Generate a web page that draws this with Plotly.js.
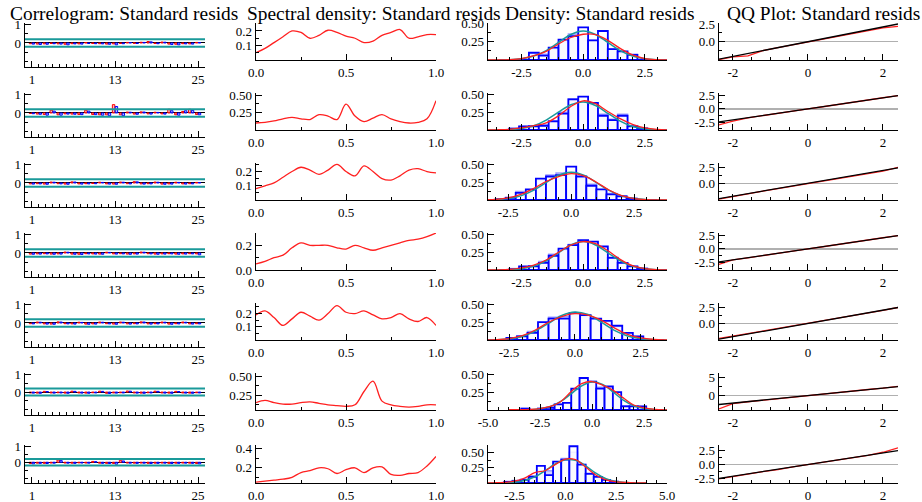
<!DOCTYPE html>
<html><head><meta charset="utf-8">
<script src="https://cdn.plot.ly/plotly-3.0.1.min.js"></script>
<style>html,body{margin:0;padding:0;background:#fff}#chart{width:922px;height:502px}</style>
</head><body><div id="chart"></div>
<script>
// ---- data: residual diagnostics for 7 series ----
const lags = [1,2,3,4,5,6,7,8,9,10,11,12,13,14,15,16,17,18,19,20,21,22,23,24,25];
const acfRows = [
  [-0.04,-0.06,-0.05,-0.03,-0.05,-0.07,-0.04,-0.05,0.02,-0.03,-0.04,-0.06,-0.05,-0.03,0.03,-0.02,0.04,0.08,-0.03,0.05,-0.06,-0.07,-0.04,-0.05,0.03],
  [-0.03,-0.06,-0.08,0.15,-0.1,-0.05,-0.06,-0.08,0.15,-0.08,-0.1,-0.1,0.45,-0.1,0.05,-0.06,0.06,-0.05,0.04,-0.05,0.2,-0.1,0.08,0.2,-0.08],
  [-0.05,-0.04,-0.06,0.05,-0.04,-0.06,0.06,-0.05,-0.04,-0.03,0.04,-0.05,-0.06,0.05,-0.04,0.07,-0.05,-0.04,0.05,-0.06,-0.05,0.04,-0.05,-0.04,0.03],
  [-0.06,-0.05,-0.04,-0.06,-0.05,0.05,-0.06,-0.07,-0.04,-0.05,-0.06,0.04,-0.05,-0.04,-0.06,-0.05,0.05,-0.04,-0.06,-0.05,-0.04,-0.06,-0.05,-0.04,-0.05],
  [-0.04,0.05,-0.05,-0.06,0.06,-0.04,-0.05,0.04,-0.06,-0.05,0.05,-0.04,-0.06,0.05,-0.05,-0.04,0.06,-0.05,-0.04,0.05,-0.06,-0.04,0.05,-0.05,-0.04],
  [-0.05,-0.06,0.04,-0.05,-0.04,-0.06,0.05,-0.05,-0.06,-0.04,0.05,-0.07,-0.05,-0.04,0.06,-0.05,-0.06,-0.04,0.05,-0.05,-0.06,0.04,-0.05,-0.06,-0.04],
  [-0.08,-0.06,-0.07,-0.05,0.14,-0.05,-0.06,-0.04,-0.05,0.05,-0.06,-0.07,-0.08,0.12,-0.05,-0.06,-0.05,-0.07,-0.06,-0.05,-0.07,-0.06,-0.05,-0.06,-0.08]
];
const pacfRows = [
  [-0.06,-0.08,-0.07,-0.04,-0.06,-0.1,-0.05,-0.06,-0.03,-0.04,-0.05,-0.07,-0.1,-0.04,0.02,-0.03,0.03,0.06,-0.04,0.04,-0.08,-0.1,-0.05,-0.06,0.02],
  [-0.04,-0.07,-0.12,0.1,-0.12,-0.06,-0.07,-0.09,0.1,-0.09,-0.12,-0.15,0.35,-0.15,0.04,-0.07,0.05,-0.06,0.03,-0.06,0.12,-0.12,0.12,0.14,-0.1],
  [-0.06,-0.05,-0.07,0.04,-0.05,-0.07,0.05,-0.06,-0.05,-0.04,0.03,-0.06,-0.07,0.04,-0.05,0.06,-0.06,-0.05,0.04,-0.07,-0.06,0.03,-0.06,-0.05,0.02],
  [-0.07,-0.06,-0.05,-0.07,-0.06,0.04,-0.07,-0.08,-0.05,-0.06,-0.07,0.03,-0.06,-0.05,-0.07,-0.06,0.04,-0.05,-0.07,-0.06,-0.05,-0.07,-0.06,-0.05,-0.1],
  [-0.05,0.04,-0.06,-0.07,0.05,-0.05,-0.06,0.03,-0.07,-0.06,0.04,-0.05,-0.07,0.04,-0.06,-0.05,0.05,-0.06,-0.05,0.04,-0.07,-0.05,0.04,-0.06,-0.05],
  [-0.06,-0.07,0.03,-0.06,-0.05,-0.07,0.04,-0.06,-0.07,-0.05,0.04,-0.08,-0.06,-0.05,0.05,-0.06,-0.07,-0.05,0.04,-0.06,-0.07,0.03,-0.06,-0.07,-0.05],
  [-0.1,-0.07,-0.08,-0.06,0.1,-0.06,-0.07,-0.05,-0.06,0.04,-0.07,-0.08,-0.12,0.08,-0.06,-0.07,-0.06,-0.08,-0.07,-0.06,-0.08,-0.07,-0.06,-0.07,-0.1]
];
const confBand = [0.2, 0.2, 0.2, 0.2, 0.2, 0.2, 0.2];

const freq = [0,0.05,0.1,0.15,0.2,0.25,0.3,0.35,0.4,0.45,0.5,0.55,0.6,0.65,0.7,0.75,0.8,0.85,0.9,0.95,1];
const specRows = [
  [0.05,0.08,0.12,0.16,0.2,0.19,0.15,0.17,0.205,0.19,0.165,0.15,0.12,0.13,0.17,0.19,0.21,0.15,0.16,0.175,0.175],
  [0.1,0.11,0.13,0.16,0.18,0.16,0.15,0.22,0.2,0.15,0.37,0.2,0.12,0.17,0.22,0.16,0.12,0.1,0.11,0.16,0.42],
  [0.08,0.1,0.12,0.16,0.2,0.23,0.21,0.18,0.21,0.25,0.2,0.17,0.24,0.2,0.15,0.14,0.17,0.21,0.22,0.2,0.19],
  [0.05,0.07,0.1,0.12,0.18,0.22,0.2,0.2,0.2,0.18,0.17,0.2,0.18,0.16,0.18,0.2,0.22,0.24,0.25,0.27,0.3],
  [0.19,0.22,0.17,0.11,0.16,0.21,0.18,0.15,0.2,0.26,0.21,0.2,0.22,0.19,0.16,0.17,0.2,0.16,0.14,0.17,0.11],
  [0.15,0.18,0.15,0.13,0.13,0.15,0.16,0.14,0.12,0.11,0.1,0.12,0.3,0.44,0.17,0.12,0.1,0.09,0.1,0.12,0.12],
  [0.05,0.06,0.07,0.08,0.1,0.15,0.17,0.2,0.19,0.14,0.18,0.2,0.15,0.2,0.21,0.13,0.12,0.14,0.15,0.22,0.32]
];

const binMid = [-3.2,-2.8,-2.4,-2.0,-1.6,-1.2,-0.8,-0.4,0,0.4,0.8,1.2,1.6,2.0,2.4,2.8,3.2];
const histA = [
  [0,0,0,0.1,0.06,0.17,0.28,0.33,0.45,0.27,0.4,0.15,0.12,0.07,0,0,0],
  [0,0.02,0.05,0.05,0.06,0.12,0.23,0.43,0.47,0.38,0.2,0.14,0.2,0.05,0.02,0,0],
  [0,0.01,0.03,0.1,0.15,0.3,0.33,0.35,0.47,0.33,0.2,0.15,0.08,0.05,0.02,0,0],
  [0,0.01,0.05,0.05,0.1,0.2,0.3,0.35,0.42,0.4,0.33,0.17,0.1,0.05,0.02,0,0],
  [0,0,0.03,0.05,0.1,0.25,0.3,0.3,0.38,0.35,0.3,0.27,0.2,0.1,0.05,0,0],
  [0.02,0,0.02,0.03,0.08,0.1,0.3,0.45,0.4,0.3,0.33,0.25,0.05,0.05,0.05,0,0],
  [0,0.02,0.03,0.05,0.1,0.28,0.13,0.35,0.38,0.6,0.3,0.15,0.1,0.05,0.02,0,0]
];
const histB = [
  [0,0,0,0.08,0.08,0.15,0.25,0.36,0.4,0.27,0.3,0.15,0.1,0.08,0,0,0],
  [0,0.02,0.05,0.06,0.07,0.13,0.25,0.44,0.4,0.35,0.22,0.15,0.22,0.06,0.03,0,0],
  [0,0.01,0.04,0.12,0.14,0.28,0.35,0.38,0.4,0.3,0.22,0.13,0.09,0.06,0.02,0,0],
  [0,0.02,0.04,0.06,0.12,0.22,0.28,0.36,0.4,0.38,0.3,0.18,0.1,0.05,0.02,0,0],
  [0,0,0.03,0.06,0.12,0.23,0.32,0.33,0.36,0.33,0.3,0.25,0.18,0.1,0.05,0,0],
  [0.02,0,0.02,0.04,0.08,0.1,0.28,0.42,0.4,0.32,0.3,0.24,0.06,0.05,0.05,0,0],
  [0,0.02,0.04,0.06,0.12,0.2,0.2,0.33,0.4,0.5,0.3,0.16,0.1,0.05,0.03,0,0]
];
const densX = [-4,-3.5,-3,-2.5,-2,-1.5,-1,-0.5,0,0.5,1,1.5,2,2.5,3,3.5,4];
const kdeRows = [
  [0,0.001,0.005,0.02,0.06,0.12,0.22,0.31,0.355,0.35,0.27,0.16,0.07,0.02,0.005,0.001,0],
  [0,0.003,0.01,0.03,0.06,0.1,0.2,0.33,0.41,0.37,0.26,0.16,0.08,0.03,0.008,0.002,0],
  [0,0.002,0.008,0.03,0.08,0.16,0.26,0.33,0.37,0.34,0.25,0.14,0.06,0.02,0.005,0.001,0],
  [0,0.002,0.008,0.03,0.07,0.14,0.25,0.35,0.4,0.37,0.27,0.15,0.06,0.02,0.005,0.001,0],
  [0,0.001,0.005,0.02,0.06,0.14,0.25,0.33,0.37,0.35,0.28,0.17,0.08,0.03,0.008,0.002,0],
  [0.005,0.005,0.008,0.02,0.05,0.12,0.26,0.37,0.4,0.35,0.28,0.17,0.07,0.03,0.01,0.002,0],
  [0,0.003,0.01,0.03,0.08,0.17,0.2,0.3,0.39,0.38,0.26,0.13,0.05,0.02,0.008,0.003,0]
];
const normRows = [
  [0,0.001,0.004,0.018,0.054,0.13,0.242,0.352,0.399,0.352,0.242,0.13,0.054,0.018,0.004,0.001,0],
  [0,0.001,0.005,0.02,0.06,0.14,0.25,0.355,0.395,0.345,0.235,0.125,0.05,0.016,0.004,0.001,0],
  [0,0.001,0.005,0.02,0.058,0.135,0.245,0.35,0.39,0.35,0.245,0.135,0.058,0.02,0.005,0.001,0],
  [0,0.001,0.004,0.018,0.054,0.13,0.242,0.352,0.399,0.352,0.242,0.13,0.054,0.018,0.004,0.001,0],
  [0,0.001,0.004,0.016,0.05,0.125,0.235,0.345,0.395,0.358,0.25,0.135,0.057,0.019,0.005,0.001,0],
  [0,0.001,0.004,0.016,0.05,0.12,0.23,0.34,0.395,0.36,0.255,0.14,0.06,0.02,0.005,0.001,0],
  [0,0.001,0.003,0.012,0.04,0.1,0.2,0.31,0.38,0.37,0.28,0.16,0.07,0.025,0.007,0.001,0]
];

const qqX = [-2.4,-2,-1.6,-1.2,-0.8,-0.4,0,0.4,0.8,1.2,1.6,2,2.4];
const qqRows = [
  [-2.55,-2.15,-2.0,-1.25,-0.82,-0.42,0,0.4,0.8,1.2,1.58,1.95,2.15],
  [-3.1,-2.3,-1.7,-1.25,-0.85,-0.4,0,0.4,0.85,1.25,1.7,2.1,2.5],
  [-2.6,-2.1,-1.7,-1.25,-0.85,-0.4,0.05,0.45,0.85,1.25,1.65,2.0,2.6],
  [-3.0,-2.1,-1.7,-1.25,-0.85,-0.4,0,0.4,0.85,1.25,1.7,2.1,2.5],
  [-2.4,-2.0,-1.65,-1.25,-0.85,-0.4,0,0.4,0.85,1.25,1.65,2.05,2.5],
  [-3.8,-2.2,-1.7,-1.25,-0.85,-0.4,0,0.4,0.85,1.3,1.7,2.1,2.6],
  [-2.6,-2.1,-1.7,-1.25,-0.9,-0.4,0,0.4,0.85,1.25,1.65,2.2,3.0]
];
const qqLine = [[-2.5,2.5],[-2.5,2.5],[-2.5,2.5],[-2.5,2.5],[-2.5,2.5],[-2.5,2.5],[-2.5,2.5]];
const qqLineX = [-2.4, 2.4];

const titles = ['Correlogram: Standard resids','Spectral density: Standard resids','Density: Standard resids','QQ Plot: Standard resids'];

// ---- layout geometry (pixels) ----
const W = 922, H = 502;
const colPx = [[25,205],[256,436],[488,667],[719,898]];
const rowTop = [23, 93, 163, 233, 303, 373, 445];
const corrBot = [67, 137, 207, 277, 347, 415, 483];
const plotBot = [60, 130, 200, 270, 340, 410, 483];
const specRange = [[0,0.255],[0,0.53],[0,0.26],[0,0.3],[0,0.28],[0.05,0.55],[0.04,0.44]];
const specTicks = [[0.1,0.2],[0.25,0.5],[0.1,0.2],[0,0.2],[0.1,0.2],[0.25,0.5],[0.2,0.4]];
const densRange = [[0,0.51],[0,0.52],[0,0.52],[0,0.52],[0,0.52],[0,0.52],[0,0.62]];
const densX0 = [[-3.86,3.4],[-3.86,3.4],[-3.3,3.8],[-3.86,3.4],[-3.3,3.5],[-5,3.6],[-3.8,5]];
const densTicks = [[-2.5,0,2.5],[-2.5,0,2.5],[-2.5,0,2.5],[-2.5,0,2.5],[-2.5,0,2.5],[-5,-2.5,0,2.5],[-2.5,0,2.5,5]];
const qqRange = [[-2.58,2.64],[-4,3],[-2.7,3.3],[-4,3],[-2.6,3.2],[-4,6.3],[-3.3,3.5]];
const qqTicks = [[0,2.5],[-2.5,0,2.5],[0,2.5],[-2.5,0,2.5],[0,2.5],[0,5],[-2.5,0,2.5]];

const FONT = 'Liberation Serif, Times New Roman, serif';
function fmt(v, d) { return v.toFixed(d); }

const traces = [];
const layout = {
  width: W, height: H, margin: {l:0, r:0, t:0, b:0},
  paper_bgcolor: '#fff', plot_bgcolor: 'rgba(0,0,0,0)',
  showlegend: false, barmode: 'overlay', bargap: 0,
  font: {family: FONT, size: 13, color: 'rgb(0,0,0)'},
  annotations: [], shapes: []
};

function baseAxis() {
  return {showline:true, linecolor:'#000', linewidth:1.3, showgrid:false, zeroline:false, color:'rgb(0,0,0)',
    ticks:'inside', ticklen:6, tickwidth:1, tickcolor:'#000',
    tickfont:{family:FONT, size:13, color:'rgb(0,0,0)'}, fixedrange:true};
}
function minorTicks(extra) {
  return Object.assign({ticklen:3, ticks:'inside', tickcolor:'#000', tickwidth:1}, extra);
}

for (let r = 0; r < 7; r++) {
  for (let c = 0; c < 4; c++) {
    const n = r*4 + c + 1;
    const xa = 'x' + n, ya = 'y' + n;
    const top = rowTop[r];
    const bot = c === 0 ? corrBot[r] : plotBot[r];
    const xAx = Object.assign(baseAxis(), {domain: [colPx[c][0]/W, colPx[c][1]/W], anchor: ya});
    const yAx = Object.assign(baseAxis(), {domain: [1 - bot/H, 1 - top/H], anchor: xa});
    if (c === 0) {
      xAx.range = [0, 26]; xAx.tickvals = [1,13,25]; xAx.ticktext = ['1','13','25'];
      xAx.minor = minorTicks({tickvals: lags});
      yAx.range = [-1.3, 1.08]; yAx.tickvals = [0,1]; yAx.ticktext = ['0','1'];
      yAx.minor = minorTicks({tickvals:[-1,-0.5,0.5]});
      yAx.zeroline = true; yAx.zerolinecolor = '#000'; yAx.zerolinewidth = 1;
      traces.push({type:'bar', x:lags, y:acfRows[r], xaxis:xa, yaxis:ya, width:0.35, offset:-0.38,
        marker:{color:'rgba(255,140,140,0.6)', line:{color:'#f00', width:1}}, hoverinfo:'skip'});
      traces.push({type:'bar', x:lags, y:pacfRows[r], xaxis:xa, yaxis:ya, width:0.35, offset:0.03,
        marker:{color:'rgba(140,140,255,0.6)', line:{color:'#00f', width:1}}, hoverinfo:'skip'});
      traces.push({type:'scatter', mode:'lines', x:[0,26], y:[confBand[r],confBand[r]], xaxis:xa, yaxis:ya,
        line:{color:'#1a9a9a', width:2}, hoverinfo:'skip'});
      traces.push({type:'scatter', mode:'lines', x:[0,26], y:[-confBand[r],-confBand[r]], xaxis:xa, yaxis:ya,
        line:{color:'#1a9a9a', width:2}, hoverinfo:'skip'});
    } else if (c === 1) {
      xAx.range = [0, 1]; xAx.tickvals = [0,0.5,1]; xAx.ticktext = ['0.0','0.5','1.0'];
      xAx.minor = minorTicks({dtick:0.25});
      yAx.range = specRange[r];
      const tv = specTicks[r];
      const dec = (tv[1] === 0.5) ? 2 : 1;
      yAx.tickvals = tv; yAx.ticktext = tv.map(v => fmt(v, dec));
      yAx.minor = minorTicks({dtick:(tv[1]-tv[0])/2});
      traces.push({type:'scatter', mode:'lines', x:freq, y:specRows[r], xaxis:xa, yaxis:ya,
        line:{color:'#ff2020', width:1.3, shape:'spline', smoothing:1}, hoverinfo:'skip'});
    } else if (c === 2) {
      xAx.range = densX0[r]; xAx.tickvals = densTicks[r]; xAx.ticktext = densTicks[r].map(v => fmt(v,1));
      xAx.minor = minorTicks({dtick:0.5});
      yAx.range = densRange[r]; yAx.tickvals = [0.25,0.5]; yAx.ticktext = ['0.25','0.50'];
      yAx.minor = minorTicks({dtick:0.125});
      traces.push({type:'bar', x:binMid, y:histB[r], xaxis:xa, yaxis:ya, width:0.4,
        marker:{color:'rgba(160,160,255,0.45)', line:{color:'rgba(120,120,255,0.7)', width:1.5}}, hoverinfo:'skip'});
      traces.push({type:'bar', x:binMid, y:histA[r], xaxis:xa, yaxis:ya, width:0.4,
        marker:{color:'rgba(255,255,255,0.85)', line:{color:'#0000ff', width:1.8}}, hoverinfo:'skip'});
      traces.push({type:'scatter', mode:'lines', x:densX, y:normRows[r], xaxis:xa, yaxis:ya,
        line:{color:'#1a9a9a', width:1.5, shape:'spline'}, hoverinfo:'skip'});
      traces.push({type:'scatter', mode:'lines', x:densX, y:kdeRows[r], xaxis:xa, yaxis:ya,
        line:{color:'#ff2020', width:1.3, shape:'spline'}, hoverinfo:'skip'});
    } else {
      xAx.range = [-2.37, 2.4]; xAx.tickvals = [-2,0,2]; xAx.ticktext = ['-2','0','2'];
      xAx.minor = minorTicks({dtick:0.5});
      yAx.range = qqRange[r]; const tv = qqTicks[r];
      const big = tv.includes(5);
      yAx.tickvals = tv; yAx.ticktext = tv.map(v => big ? String(v) : fmt(v,1));
      yAx.minor = minorTicks({dtick: big ? 2.5 : 1.25});
      yAx.zeroline = true; yAx.zerolinecolor = '#b0b0b0'; yAx.zerolinewidth = 1.5;
      traces.push({type:'scatter', mode:'lines', x:qqX, y:qqRows[r], xaxis:xa, yaxis:ya,
        line:{color:'#ff2020', width:1.3}, hoverinfo:'skip'});
      traces.push({type:'scatter', mode:'lines', x:qqLineX, y:qqLine[r], xaxis:xa, yaxis:ya,
        line:{color:'#000', width:1.3}, hoverinfo:'skip'});
    }
    layout['xaxis' + n] = xAx;
    layout['yaxis' + n] = yAx;
  }
}

const titleX = [8, 245, 503, 725];
titles.forEach((t, i) => {
  layout.annotations.push({text: t, xref:'paper', yref:'paper', x: titleX[i]/W, y: 1 - 14/H,
    xanchor:'left', yanchor:'middle', showarrow:false, font:{family:FONT, size:19.4, color:'#000'}});
});

Plotly.newPlot('chart', traces, layout, {staticPlot:true});
</script></body></html>
